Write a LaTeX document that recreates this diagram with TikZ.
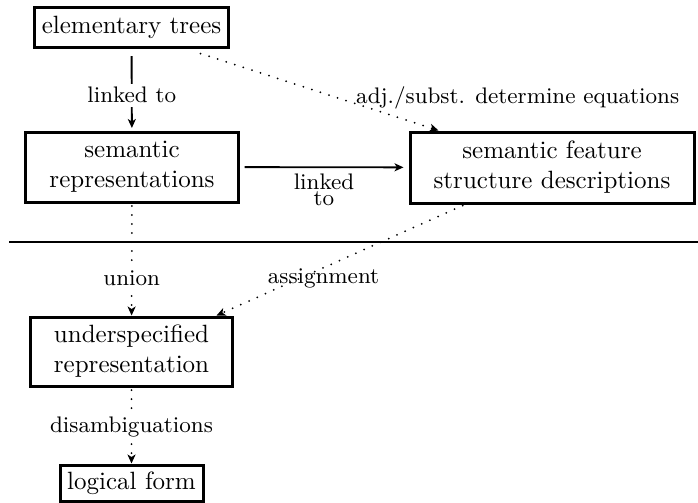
\documentclass[tikz,border=0pt]{standalone}
\usetikzlibrary{arrows.meta}
\begin{document}
\begin{tikzpicture}[x=0.4pt,y=-0.4pt,
  box/.style={draw,line width=1.2pt,inner sep=0pt,align=center},
  elbl/.style={font=\small},
  tip/.style={-{Stealth[length=3.6pt,width=3.2pt,inset=1pt]}},
  solidarr/.style={line width=0.75pt,tip},
  dotarr/.style={line width=0.8pt,line cap=round,dash pattern=on 0pt off 3.6pt,tip},
  gaplbl/.style={elbl,fill=white,inner sep=1.5pt}]
\useasboundingbox (0,0) rectangle (698,502);
\node[box,minimum width=77.2pt,minimum height=16pt] (et) at (131.5,27) {elementary trees};
\node[box,minimum width=84.8pt,minimum height=28pt] (sr) at (132,167) {semantic\\representations};
\node[box,minimum width=113.6pt,minimum height=28.4pt] (sf) at (552,167.5) {semantic feature\\structure descriptions};
\node[box,minimum width=80.4pt,minimum height=27.6pt] (ur) at (131.5,351.5) {underspecified\\representation};
\node[box,minimum width=57.2pt,minimum height=14.4pt] (lf) at (131.5,483) {logical form};
\coordinate (dl) at (9,242);
\coordinate (dr) at (698,242);
\draw[line width=0.8pt] (dl) -- (dr);
\draw[solidarr,shorten <=3pt,shorten >=1pt] (et) -- node[pos=0.57,gaplbl] {linked to} (sr);
\draw[solidarr,shorten <=2pt,shorten >=2pt] (sr) -- node[elbl,below,inner sep=2.4pt,align=center] {linked\\[-4.9pt]to} (sf);
\draw[dotarr] ([xshift=-11.6pt,yshift=-2pt]et.south east) -- node[elbl,pos=0.65,anchor=base west,inner sep=0pt] {adj./subst. determine equations} ([xshift=12pt]sf.north west);
\draw[dotarr,shorten <=1pt] (sr) -- node[pos=0.67,gaplbl] {union} (ur);
\draw[dotarr,shorten <=1pt] ([xshift=-34.8pt]sf.south) -- node[elbl,pos=0.67,xshift=10pt] {assignment} ([xshift=-6.8pt]ur.north east);
\draw[dotarr,shorten <=1pt] (ur) -- node[pos=0.52,gaplbl] {disambiguations} (lf);
\end{tikzpicture}
\end{document}
